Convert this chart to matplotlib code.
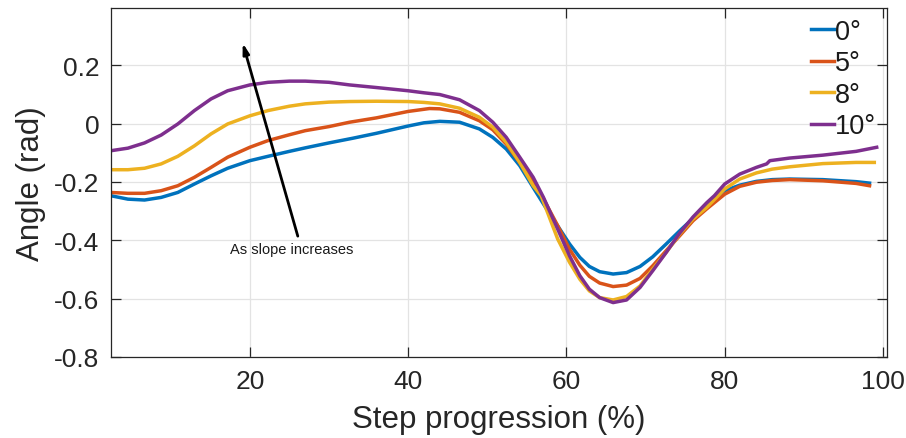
import matplotlib
matplotlib.use("Agg")
import matplotlib.pyplot as plt

plt.rcParams['font.family'] = ['Liberation Sans', 'DejaVu Sans']
plt.rcParams['axes.unicode_minus'] = False

# step progression (%) and ankle angle (rad) for each slope
x_0 = [2.4, 4.6, 6.7, 8.8, 10.9, 13, 15.1, 17.2, 20, 22.3, 25, 27, 30, 33, 36, 40, 42, 44,
       46.5, 49, 50.7, 52.4, 54.1, 55.8, 57.5, 60.4, 61.7, 62.9, 64.2, 65.9, 67.6, 69.3, 70.9,
       72.6, 74.3, 76, 77.7, 79, 80, 81.9, 84, 86, 88.2, 92.4, 96.6, 98.3]
y_0 = [-0.247, -0.259, -0.262, -0.253, -0.236, -0.207, -0.179, -0.153, -0.127, -0.112, -0.095,
       -0.083, -0.066, -0.050, -0.033, -0.008, 0.003, 0.008, 0.005, -0.018, -0.047, -0.087,
       -0.144, -0.219, -0.293, -0.413, -0.459, -0.490, -0.508, -0.516, -0.511, -0.490, -0.457,
       -0.413, -0.368, -0.325, -0.280, -0.250, -0.230, -0.211, -0.198, -0.192, -0.190, -0.192,
       -0.199, -0.204]

x_5 = [2.4, 4.6, 6.7, 8.8, 10.9, 13, 15.1, 17.2, 20, 22.3, 25, 27, 30, 32.6, 36, 40, 42.7, 44,
       46.5, 49, 50.7, 52.4, 54.1, 55.8, 57, 58.9, 60.4, 61.7, 62.9, 64.2, 65.9, 67.6, 69.3,
       70.9, 72.6, 74.3, 76, 77.7, 80, 81.9, 84, 86, 88.2, 92.4, 96.6, 98.3]
y_5 = [-0.236, -0.239, -0.239, -0.230, -0.213, -0.184, -0.150, -0.115, -0.081, -0.058, -0.038,
       -0.024, -0.010, 0.005, 0.020, 0.042, 0.052, 0.051, 0.039, 0.010, -0.021, -0.070, -0.133,
       -0.201, -0.253, -0.350, -0.431, -0.486, -0.524, -0.547, -0.559, -0.554, -0.531, -0.488,
       -0.436, -0.385, -0.333, -0.293, -0.242, -0.215, -0.201, -0.195, -0.192, -0.196, -0.205,
       -0.213]

x_8 = [2.4, 4.6, 6.7, 8.8, 10.9, 13, 15.1, 17.2, 20, 22.3, 25, 27, 30, 32.6, 36, 40, 42, 44,
       46.5, 49, 50.7, 52.4, 54.1, 55.8, 56.8, 58.9, 60.4, 61.7, 62.9, 64.2, 65.9, 67.6, 69.3,
       70.9, 72.6, 74.3, 76, 77.7, 80, 81.9, 84, 86, 88.2, 92.4, 96.6, 98.9]
y_8 = [-0.158, -0.158, -0.153, -0.138, -0.112, -0.076, -0.035, -0.001, 0.027, 0.045, 0.060,
       0.068, 0.074, 0.076, 0.077, 0.076, 0.073, 0.068, 0.053, 0.022, -0.012, -0.064, -0.133,
       -0.213, -0.247, -0.396, -0.476, -0.534, -0.574, -0.597, -0.605, -0.593, -0.557, -0.499,
       -0.442, -0.379, -0.327, -0.288, -0.224, -0.190, -0.169, -0.156, -0.148, -0.137, -0.133,
       -0.133]

x_10 = [2.4, 4.6, 6.7, 8.8, 10.9, 13, 15.1, 17.2, 20, 22.3, 25, 27, 30, 32.6, 36, 40, 42, 44,
        46.5, 49, 50.7, 52.4, 54.1, 55.8, 57.1, 58.9, 60.4, 61.7, 62.9, 64.2, 65.9, 67.6, 69.3,
        70.9, 72.6, 74.3, 76, 77.7, 78.7, 80, 81.9, 84, 85.3, 85.7, 88.2, 92.4, 96.6, 99.2]
y_10 = [-0.093, -0.084, -0.066, -0.039, -0.001, 0.045, 0.085, 0.113, 0.133, 0.142, 0.146,
        0.146, 0.142, 0.133, 0.124, 0.113, 0.106, 0.100, 0.082, 0.045, 0.005, -0.047, -0.115,
        -0.184, -0.253, -0.362, -0.454, -0.522, -0.568, -0.597, -0.614, -0.605, -0.562, -0.505,
        -0.442, -0.376, -0.320, -0.272, -0.247, -0.207, -0.173, -0.150, -0.138, -0.127, -0.118,
        -0.108, -0.095, -0.081]

labels = ['0°', '5°', '8°', '10°']
colors = ['#0072BD', '#D95319', '#EDB120', '#7E2F8E']
xticks = [20, 40, 60, 80, 100]
yticks = [-0.8, -0.6, -0.4, -0.2, 0, 0.2]
ytick_labels = ['-0.8', '-0.6', '-0.4', '-0.2', '0', '0.2']

dark = '#262626'

fig = plt.figure(figsize=(9.06, 4.39), dpi=100)
ax = fig.add_axes([0.122, 0.185, 0.857, 0.7945])

series = [(x_0, y_0), (x_5, y_5), (x_8, y_8), (x_10, y_10)]
for (xs, ys), lab, c in zip(series, labels, colors):
    ax.plot(xs, ys, color=c, lw=2.5, label=lab, solid_joinstyle='round')

ax.set_xlim(2.4, 100.5)
ax.set_ylim(-0.8, 0.397)
ax.set_xticks(xticks)
ax.set_yticks(yticks)
ax.set_yticklabels(ytick_labels)
ax.grid(True, color='#e3e3e3', lw=0.9)
ax.set_axisbelow(True)
ax.tick_params(direction='in', length=7, width=0.9, colors=dark, labelsize=19,
               top=True, right=True)
ax.tick_params(axis='x', pad=9)
ax.tick_params(axis='y', pad=8)
for s in ax.spines.values():
    s.set_color(dark)
    s.set_linewidth(0.9)

ax.set_xlabel('Step progression (%)', fontsize=22.5, color=dark, labelpad=8)
ax.set_ylabel('Angle (rad)', fontsize=22.5, color=dark, labelpad=6)

ax.annotate('', xy=(19.1, 0.277), xytext=(26.06, -0.386),
            arrowprops=dict(arrowstyle='-|>,head_length=0.6,head_width=0.18',
                            lw=2, color='k', shrinkA=0, shrinkB=0))
ax.text(25.3, -0.431, 'As slope increases', ha='center', va='center', fontsize=10.5,
        color='#1a1a1a')

leg = ax.legend(loc='upper right', frameon=False, fontsize=19.5, handlelength=0.85,
                handletextpad=0.05, labelspacing=0.2, borderaxespad=0.2, borderpad=0.2)
for t in leg.get_texts():
    t.set_color('#1a1a1a')

fig.savefig('out.png', dpi=100)
